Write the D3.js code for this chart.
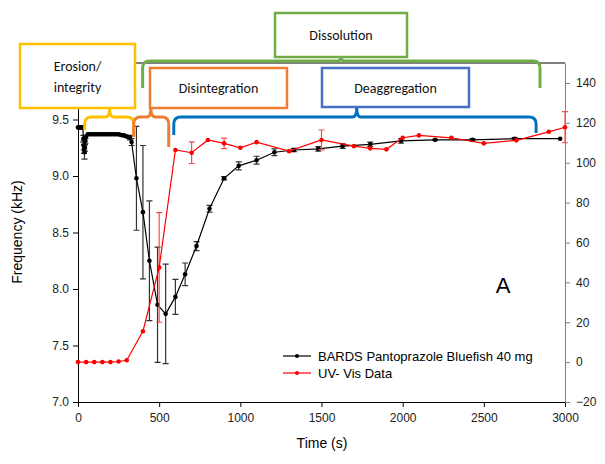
<!DOCTYPE html>
<html>
<head>
<meta charset="utf-8">
<script src="https://cdn.jsdelivr.net/npm/d3@7"></script>
<style>
  body { margin: 0; background: #fff; }
  svg { display: block; }
  .tick text { font-family: "Liberation Sans", Arial, sans-serif; font-size: 12px; fill: #222; }
</style>
</head>
<body>
<svg id="chart" width="605" height="464"></svg>
<script>
// BARDS frequency (left axis, kHz)
var bardsTime = [0, 5, 10, 15, 20, 25, 30, 33, 35, 37, 40, 43, 46,
    50, 60, 70, 80, 90, 100, 110, 120, 130, 140, 150, 160, 170, 180, 190, 200,
    210, 220, 230, 240, 250, 260, 270, 280, 290, 300, 310, 320, 330,
    360, 400, 440, 490, 540, 600, 660, 730, 810, 900, 990, 1100, 1210, 1330,
    1480, 1630, 1800, 1990, 2200, 2430, 2690, 2970];
var bardsFreq = [9.43, 9.43, 9.43, 9.43, 9.43, 9.43, 9.43, 9.33, 9.27, 9.24, 9.21, 9.25, 9.31,
    9.35, 9.37, 9.37, 9.37, 9.37, 9.37, 9.37, 9.37, 9.37, 9.37, 9.37, 9.37, 9.37, 9.37, 9.37, 9.37,
    9.37, 9.37, 9.37, 9.37, 9.37, 9.365, 9.36, 9.36, 9.355, 9.35, 9.345, 9.34, 9.30,
    8.98, 8.68, 8.25, 7.86, 7.78, 7.93, 8.13, 8.38, 8.71, 8.98, 9.09, 9.14, 9.21, 9.23,
    9.24, 9.265, 9.28, 9.31, 9.32, 9.32, 9.33, 9.33];
var bardsErr = [0, 0, 0, 0, 0, 0, 0, 0.03, 0.04, 0.04, 0.06, 0.03, 0.02,
    0, 0, 0, 0, 0, 0, 0, 0, 0, 0, 0, 0, 0, 0, 0, 0,
    0, 0, 0, 0, 0, 0, 0, 0, 0, 0, 0, 0.02, 0.03,
    0.46, 0.59, 0.53, 0.51, 0.44, 0.155, 0.1, 0.04, 0.03, 0.015, 0.035, 0.035, 0.03, 0.015,
    0.02, 0.02, 0.02, 0.02, 0.005, 0.01, 0.01, 0];

// UV-Vis data (right axis, %)
var uvTime = [0, 50, 100, 150, 200, 250, 300, 400, 500, 600, 700, 800, 900, 1000, 1100,
    1300, 1500, 1700, 1800, 1900, 2000, 2100, 2300, 2500, 2700, 2900, 3000];
var uvVal = [0, 0, 0, 0, 0, 0.3, 0.9, 15.5, 47.5, 106.4, 105, 111.4, 109.7, 107.5, 110.3,
    105.8, 111.4, 108.3, 107.2, 106.7, 112.5, 113.7, 112.5, 109.7, 111.2, 115.5, 117.8];
var uvErr = [0, 0, 0, 0, 0, 0, 0, 0, 27.5, 0, 5.4, 0, 2.6, 0, 0,
    0, 5, 0, 0, 0, 0, 0, 0, 0, 0, 0, 7.8];

var xTicks = [0, 500, 1000, 1500, 2000, 2500, 3000];
var leftTicks = [7.0, 7.5, 8.0, 8.5, 9.0, 9.5];
var rightTicks = [-20, 0, 20, 40, 60, 80, 100, 120, 140];

var seriesNames = ["BARDS Pantoprazole Bluefish 40 mg", "UV- Vis Data"];

// process phases, in seconds (t0, tip, t1)
var phaseNames = ["Erosion/\nintegrity", "Disintegration", "Deaggregation", "Dissolution"];
var phaseStart = [41, 343, 590, 398];
var phaseTip = [195, 449, 1717, 1620];
var phaseEnd = [343, 559, 2822, 2846];

var svg = d3.select('#chart');

var x = d3.scaleLinear().domain([0, 3000]).range([78, 565]);
var yL = d3.scaleLinear().domain([7, 10]).range([402, 63]);
var yR = d3.scaleLinear().domain([-20, 150]).range([402, 63]);

// frame top line
svg.append('line')
    .attr('x1', 78).attr('x2', 565).attr('y1', 63).attr('y2', 63)
    .attr('stroke', '#000').attr('stroke-width', 1);

var gx = svg.append('g').attr('transform', 'translate(0,402)')
    .call(d3.axisBottom(x).tickValues(xTicks).tickFormat(d3.format('d'))
        .tickSize(5).tickSizeOuter(0).tickPadding(6));
gx.select('.domain').attr('stroke', '#000');

var gl = svg.append('g').attr('transform', 'translate(78,0)')
    .call(d3.axisLeft(yL).tickValues(leftTicks).tickFormat(d3.format('.1f'))
        .tickSize(5).tickSizeOuter(0).tickPadding(4));

var gr = svg.append('g').attr('transform', 'translate(565,0)')
    .call(d3.axisRight(yR).tickValues(rightTicks).tickSize(5).tickSizeOuter(0).tickPadding(6));
gr.select('.domain').attr('stroke', '#808080');
gr.selectAll('.tick line').attr('stroke', '#808080');

svg.append('text')
    .attr('transform', 'translate(22,232) rotate(-90)')
    .attr('text-anchor', 'middle')
    .style('font-family', '"Liberation Sans", Arial, sans-serif')
    .style('font-size', '14px')
    .text('Frequency (kHz)');

svg.append('text')
    .attr('x', 322).attr('y', 448)
    .attr('text-anchor', 'middle')
    .style('font-family', '"Liberation Sans", Arial, sans-serif')
    .style('font-size', '14px')
    .text('Time (s)');

var bards = bardsTime.map(function(t, i) { return {t: t, v: bardsFreq[i], e: bardsErr[i]}; });
var uv = uvTime.map(function(t, i) { return {t: t, v: uvVal[i], e: uvErr[i]}; });

var drawSeries = function(data, y, color, errColor) {
    var g = svg.append('g');
    var errs = data.filter(function(d) { return d.e > 0; });
    g.selectAll('.err').data(errs).enter().append('path')
        .attr('class', 'err')
        .attr('fill', 'none')
        .attr('stroke', errColor)
        .attr('stroke-width', 1.2)
        .attr('d', function(d) {
            var cx = x(d.t), y0 = y(d.v - d.e), y1 = y(d.v + d.e);
            return 'M' + cx + ',' + y0 + 'V' + y1 +
                'M' + (cx - 3) + ',' + y0 + 'H' + (cx + 3) +
                'M' + (cx - 3) + ',' + y1 + 'H' + (cx + 3);
        });
    g.append('path').datum(data)
        .attr('fill', 'none')
        .attr('stroke', color)
        .attr('stroke-width', 1.2)
        .attr('d', d3.line().x(function(d) { return x(d.t); }).y(function(d) { return y(d.v); }));
    g.selectAll('.pt').data(data).enter().append('circle')
        .attr('class', 'pt')
        .attr('cx', function(d) { return x(d.t); })
        .attr('cy', function(d) { return y(d.v); })
        .attr('r', 2.3)
        .attr('fill', color);
};

drawSeries(bards, yL, '#000', '#333');
drawSeries(uv, yR, '#ff0000', '#f05050');

// legend
var legend = svg.append('g').attr('transform', 'translate(283,356)');
[['#000', seriesNames[0]], ['#ff0000', seriesNames[1]]].forEach(function(s, i) {
    var row = legend.append('g').attr('transform', 'translate(0,' + (i * 17) + ')');
    row.append('line').attr('x1', 0).attr('x2', 28).attr('stroke', s[0]).attr('stroke-width', 1.2);
    row.append('circle').attr('cx', 14).attr('r', 2).attr('fill', s[0]);
    row.append('text').attr('x', 35).attr('y', 5)
        .style('font-family', '"Liberation Sans", Arial, sans-serif')
        .style('font-size', '13px')
        .text(s[1]);
});

svg.append('text')
    .attr('x', 503).attr('y', 293)
    .attr('text-anchor', 'middle')
    .style('font-family', '"Liberation Sans", Arial, sans-serif')
    .style('font-size', '22px')
    .text('A');

// brackets
var bracketColors = ['#FFC000', '#ED7D31', '#0070C0', '#70AD47'];
var bracketY = [117, 117, 117, 61];
var bracketTipTop = [108, 108, 107, 57];
var bracketLegs = [[130, 135], [137, 147], [135, 133], [88, 88]];

var bracketPath = function(x0, xt, x1, yh, ytop, l0, l1) {
    var r = 7;
    return 'M' + x0 + ',' + l0 +
        'L' + x0 + ',' + (yh + r) +
        'Q' + x0 + ',' + yh + ' ' + (x0 + r) + ',' + yh +
        'L' + (xt - 4) + ',' + yh +
        'Q' + xt + ',' + yh + ' ' + xt + ',' + ytop +
        'Q' + xt + ',' + yh + ' ' + (xt + 4) + ',' + yh +
        'L' + (x1 - r) + ',' + yh +
        'Q' + x1 + ',' + yh + ' ' + x1 + ',' + (yh + r) +
        'L' + x1 + ',' + l1;
};

phaseNames.forEach(function(name, i) {
    svg.append('path')
        .attr('fill', 'none')
        .attr('stroke', bracketColors[i])
        .attr('stroke-width', 3)
        .attr('d', bracketPath(x(phaseStart[i]), x(phaseTip[i]), x(phaseEnd[i]),
            bracketY[i], bracketTipTop[i], bracketLegs[i][0], bracketLegs[i][1]));
});

// label boxes
var boxColors = ['#FFC000', '#ED7D31', '#4472C4', '#70AD47'];
var boxes = [[20, 44, 115, 64], [150, 68, 137, 40], [322, 68, 147, 39], [275, 13, 132, 44]];

phaseNames.forEach(function(name, i) {
    var b = boxes[i];
    svg.append('rect')
        .attr('x', b[0]).attr('y', b[1]).attr('width', b[2]).attr('height', b[3])
        .attr('fill', '#fff')
        .attr('stroke', boxColors[i])
        .attr('stroke-width', 2.5);
    var lines = name.split('\n');
    var t = svg.append('text')
        .attr('text-anchor', 'middle')
        .style('font-family', 'Carlito, Lato, "Open Sans", sans-serif')
        .style('font-size', '14px')
        .style('fill', '#111');
    lines.forEach(function(l, j) {
        t.append('tspan')
            .attr('x', b[0] + b[2] / 2)
            .attr('y', b[1] + b[3] / 2 + 5 + (j - (lines.length - 1) / 2) * 21)
            .text(l);
    });
});
</script>
</body>
</html>
